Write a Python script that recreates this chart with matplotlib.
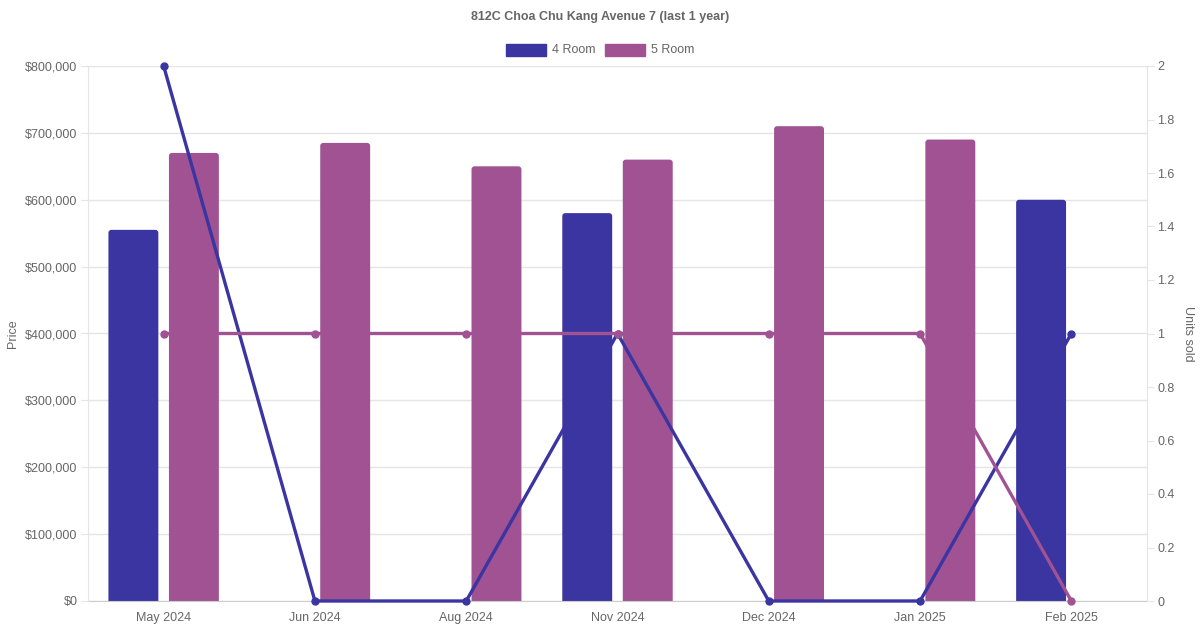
import matplotlib
matplotlib.use("Agg")
import matplotlib.pyplot as plt
import numpy as np
from matplotlib.patches import FancyBboxPatch, Rectangle
from matplotlib.ticker import FuncFormatter

plt.rcParams['font.family'] = ['Liberation Sans', 'DejaVu Sans']

months = ["May 2024", "Jun 2024", "Aug 2024", "Nov 2024", "Dec 2024", "Jan 2025", "Feb 2025"]
price_4room = [555000, np.nan, np.nan, 580000, np.nan, np.nan, 600000]
price_5room = [670000, 685000, 650000, 660000, 710000, 690000, np.nan]
units_4room = [2, 0, 0, 1, 0, 0, 1]
units_5room = [1, 1, 1, 1, 1, 1, 0]

C4 = "#3A35A1"
C5 = "#A05293"
TXT = "#666666"
GRID = "#e5e5e5"

fig = plt.figure(figsize=(12, 6.3), dpi=100)
ax = fig.add_axes([88/1200, 1-601/630, (1147-88)/1200, (601-66)/630])
ax2 = ax.twinx()

x = np.arange(len(months))
bw = 0.33
off = 0.2
b4 = ax.bar(x - off, price_4room, width=bw, color=C4)
b5 = ax.bar(x + off, price_5room, width=bw, color=C5)

# rounded top corners
px_x = 1 / 151.3
px_y = 100000 / 66.875
r = 3
for bars, col in ((b4, C4), (b5, C5)):
    for rect in bars:
        h = rect.get_height()
        rect.set_visible(False)
        if np.isnan(h):
            continue
        ry = r * px_y
        fp = FancyBboxPatch((rect.get_x(), -ry * 2), rect.get_width(), h + ry * 2,
                            boxstyle=f"round,pad=0,rounding_size={r*px_x}",
                            mutation_aspect=px_y / px_x, facecolor=col,
                            edgecolor="none", zorder=2)
        ax.add_patch(fp)

ax.set_xlim(-0.5, len(months) - 0.5)
ax.set_ylim(0, 800000)
ax.set_yticks(np.arange(0, 800001, 100000))
ax.yaxis.set_major_formatter(FuncFormatter(lambda v, p: f"${v:,.0f}"))
ax.set_xticks(x)
ax.set_xticklabels(months)
ax.grid(axis="y", color=GRID, linewidth=1)
ax.set_axisbelow(True)
ax.tick_params(axis="y", length=5, color=GRID, labelcolor=TXT, labelsize=9, pad=2.5)
ax.tick_params(axis="x", length=0, labelcolor=TXT, labelsize=9, pad=8)
for s in ("left", "right", "top"):
    ax.spines[s].set_visible(False)
ax.spines["bottom"].set_color("#cccccc")
ax.set_ylabel("Price", color=TXT, fontsize=9, labelpad=4.5)

ax2.plot(x, units_4room, color=C4, linewidth=2.4, marker="o", markersize=5, zorder=5, clip_on=False)
ax2.plot(x, units_5room, color=C5, linewidth=2.4, marker="o", markersize=5, zorder=5, clip_on=False)
ax2.set_ylim(0, 2)
ax2.set_yticks(np.arange(0, 2.01, 0.2))
ax2.yaxis.set_major_formatter(FuncFormatter(lambda v, p: f"{round(v, 1):g}"))
ax2.tick_params(axis="y", length=5, color=GRID, labelcolor=TXT, labelsize=9, pad=2.5)
for s in ("top", "bottom"):
    ax2.spines[s].set_visible(False)
ax2.spines["left"].set_color(GRID)
ax2.spines["right"].set_color(GRID)
ax2.set_ylabel("Units sold", color=TXT, fontsize=9, rotation=270, labelpad=14)

fig.text(0.5, 1 - 17/630, "812C Choa Chu Kang Avenue 7 (last 1 year)", ha="center", va="center",
         fontsize=9, fontweight="bold", color=TXT)

# legend
for (x0, label, col) in ((506, "4 Room", C4), (605, "5 Room", C5)):
    fig.patches.append(Rectangle((x0/1200, 1 - 56/630), 40/1200, 12/630, transform=fig.transFigure,
                                 facecolor=col, edgecolor=col, figure=fig))
    fig.text((x0 + 46)/1200, 1 - 50/630, label, ha="left", va="center", fontsize=9, color=TXT)

fig.savefig("out.png", dpi=100)
